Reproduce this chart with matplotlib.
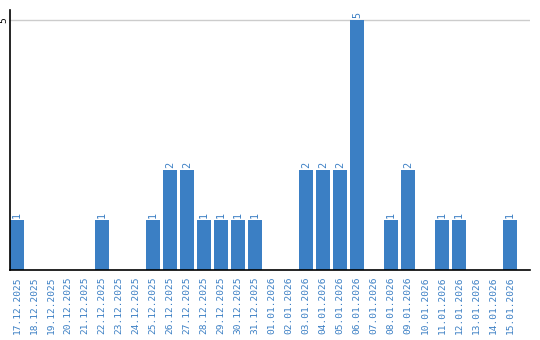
import matplotlib

matplotlib.use('agg')
import matplotlib.pyplot as plt

dates = ['17.12.2025', '18.12.2025', '19.12.2025', '20.12.2025', '21.12.2025',
         '22.12.2025', '23.12.2025', '24.12.2025', '25.12.2025', '26.12.2025',
         '27.12.2025', '28.12.2025', '29.12.2025', '30.12.2025', '31.12.2025',
         '01.01.2026', '02.01.2026', '03.01.2026', '04.01.2026', '05.01.2026',
         '06.01.2026', '07.01.2026', '08.01.2026', '09.01.2026', '10.01.2026',
         '11.01.2026', '12.01.2026', '13.01.2026', '14.01.2026', '15.01.2026']
counts = [1, 0, 0, 0, 0, 1, 0, 0, 1, 2, 2, 1, 1, 1, 1,
          0, 0, 2, 2, 2, 5, 0, 1, 2, 0, 1, 1, 0, 0, 1]

blue = '#3b7fc4'
mono = 'DejaVu Sans Mono'
fs = 6.8

fig = plt.figure(figsize=(5.4, 3.4), dpi=100)
ax = fig.add_axes([10 / 540, 70 / 340, 520 / 540, 260 / 340])

x = list(range(len(dates)))
ax.bar(x, counts, width=14 / 17, color=blue, zorder=2)
for xi, c in zip(x, counts):
    if c > 0:
        ax.text(xi, c + 0.04, str(c), rotation=90, ha='center', va='bottom',
                color=blue, fontsize=fs + 0.5, family=mono)

ax.set_xlim(-7 / 17, 30.18)
ax.set_ylim(0, 5.2)
ax.set_xticks(x)
ax.set_xticklabels(dates, rotation=90, color=blue, fontsize=fs, family=mono)
ax.set_yticks([5])
ax.set_yticklabels(['5'], rotation=90, fontsize=fs, family=mono, va='center')
ax.tick_params(axis='x', length=0, pad=5)
ax.tick_params(axis='y', length=0, pad=1)
ax.grid(axis='y', color='#cccccc', linewidth=1, zorder=0)

for s in ['top', 'right']:
    ax.spines[s].set_visible(False)
ax.spines['left'].set_color('black')
ax.spines['bottom'].set_color('black')
ax.spines['left'].set_linewidth(1.2)
ax.spines['bottom'].set_linewidth(1.2)

fig.savefig('out.png', dpi=100)
